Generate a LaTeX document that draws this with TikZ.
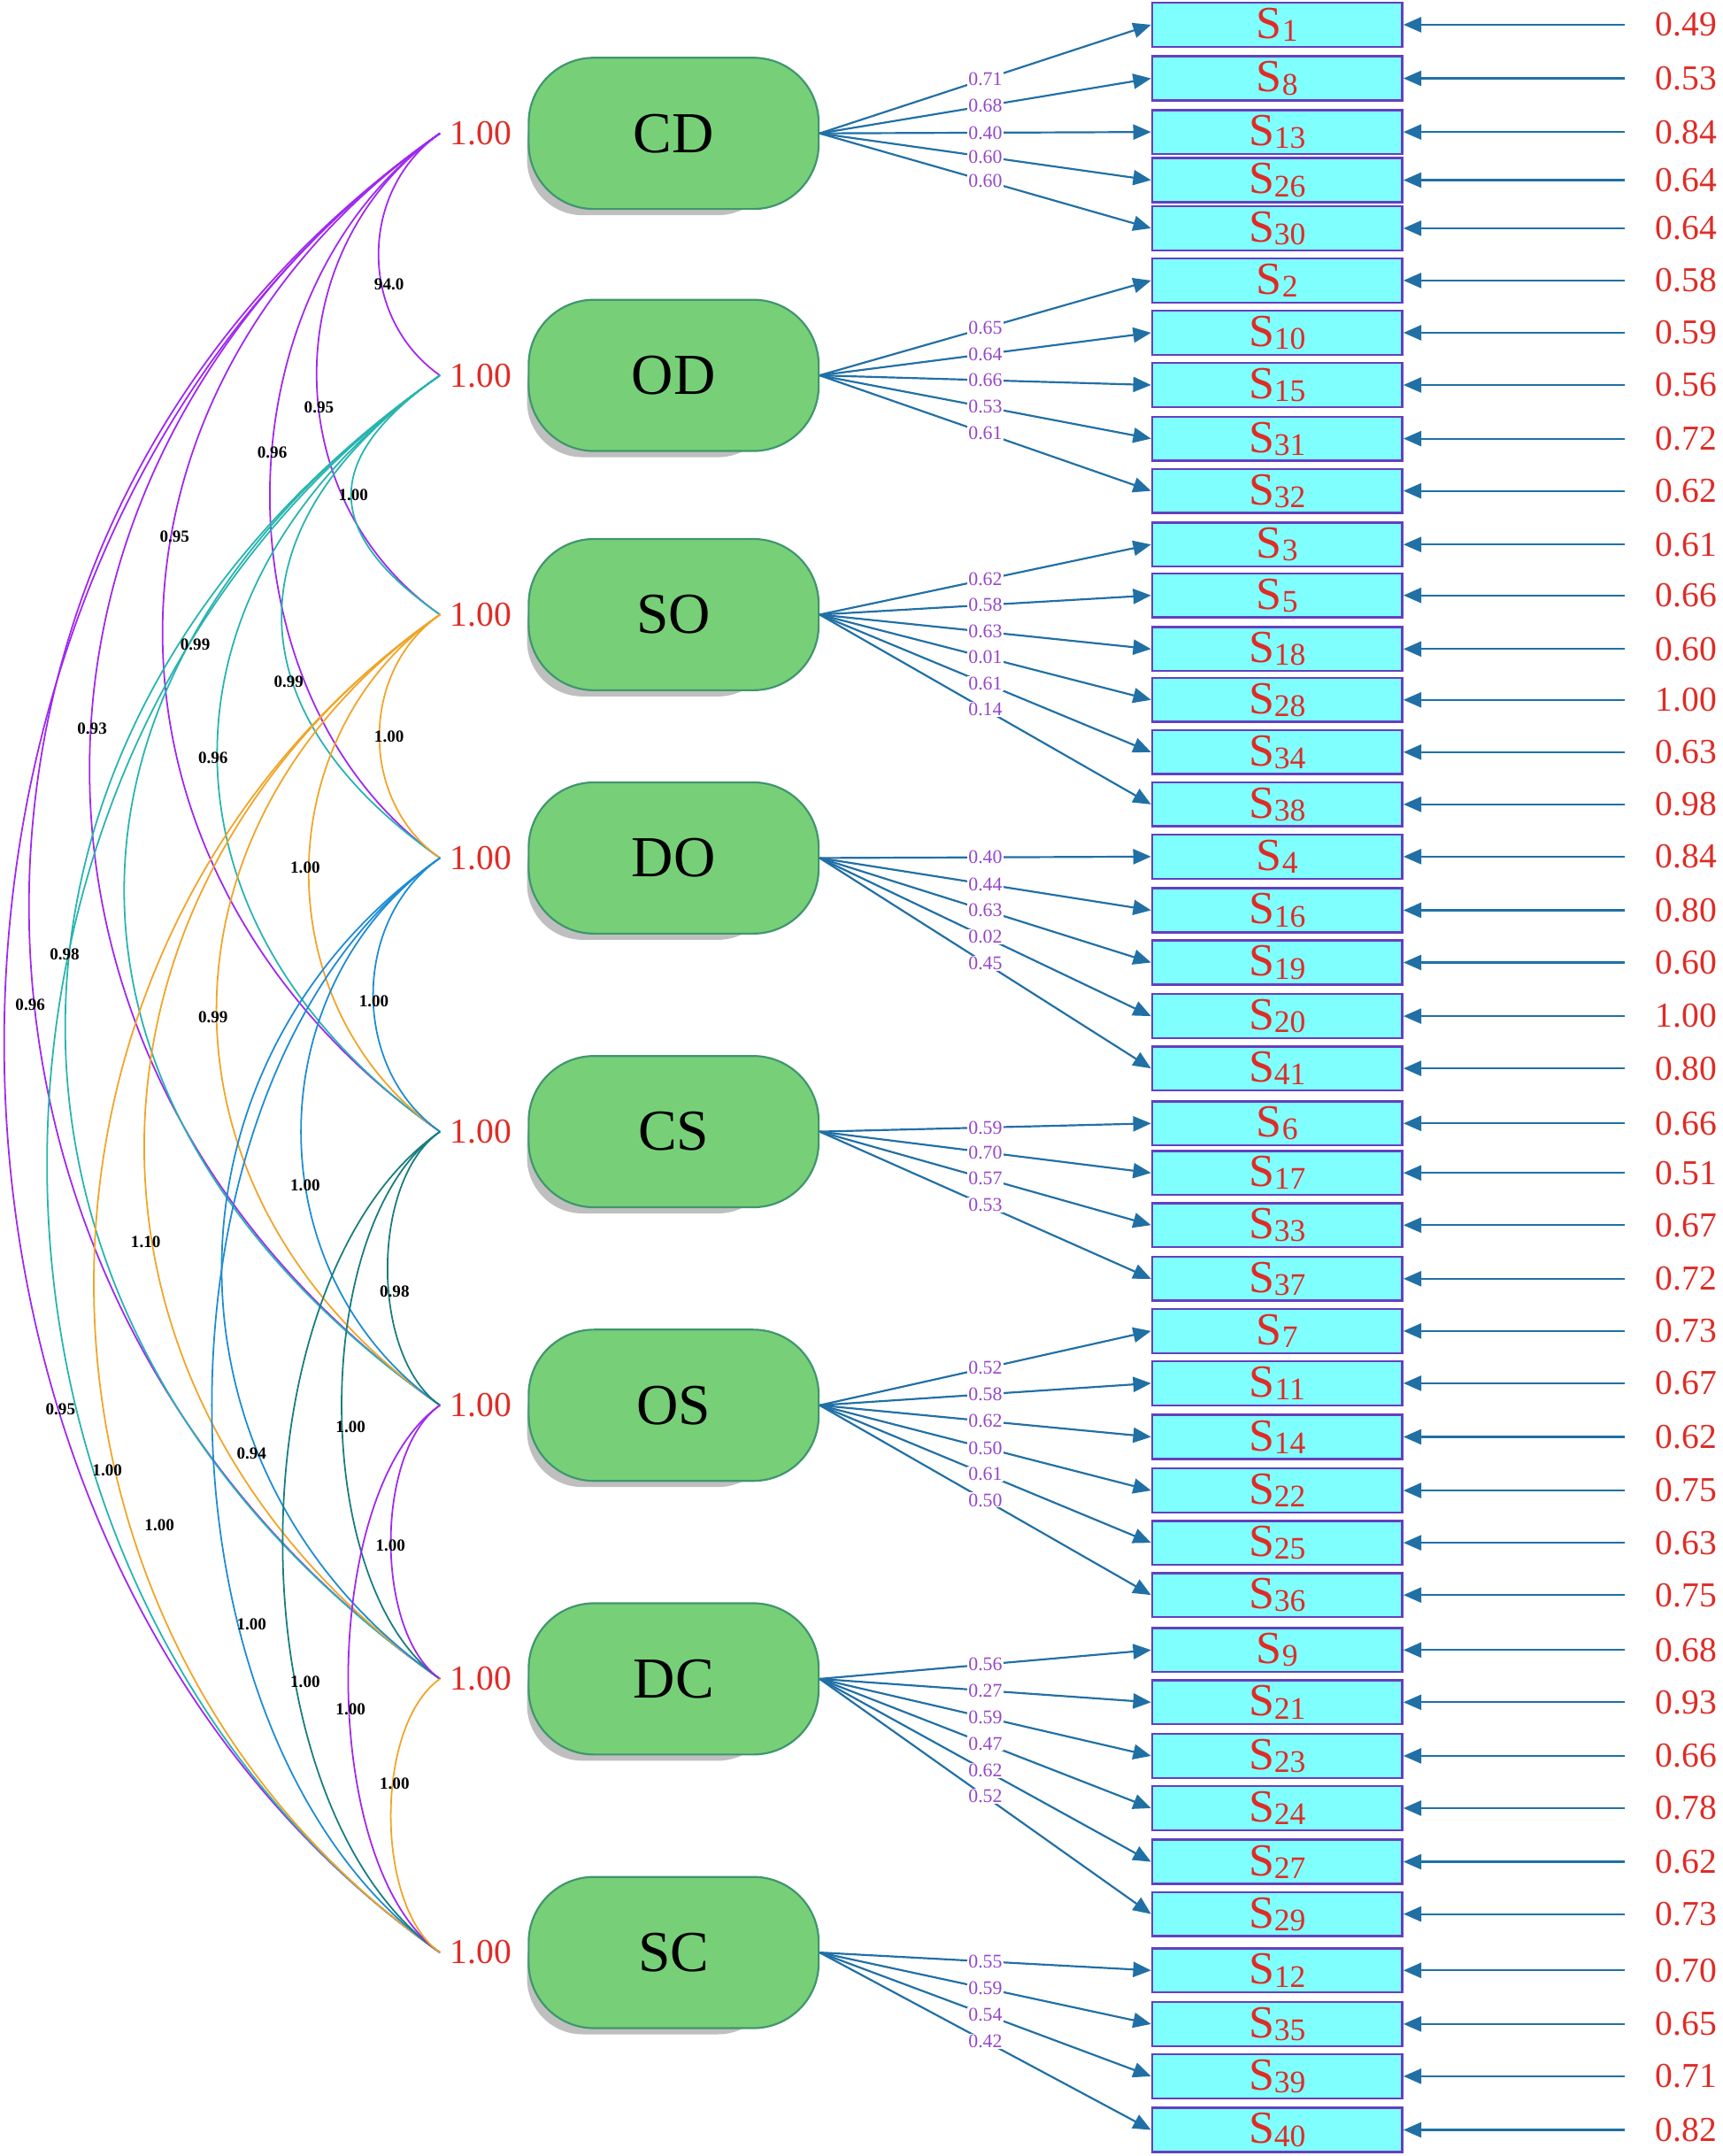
\documentclass[tikz,border=0pt]{standalone}
\usepackage{fontspec}
\setmainfont{Liberation Serif}
\usetikzlibrary{arrows.meta,shadows}

\definecolor{latgreen}{RGB}{119,208,120}
\definecolor{latedge}{RGB}{64,150,110}
\definecolor{obscyan}{RGB}{128,255,255}
\definecolor{obsedge}{RGB}{100,64,190}
\definecolor{numred}{RGB}{222,44,38}
\definecolor{pathblue}{RGB}{33,112,165}
\definecolor{ldpurple}{RGB}{150,70,200}
\definecolor{cvpurple}{RGB}{160,40,240}
\definecolor{cvteal}{RGB}{40,180,175}
\definecolor{cvorange}{RGB}{240,165,40}
\definecolor{cvblue}{RGB}{30,140,210}
\definecolor{cvdteal}{RGB}{25,125,125}

\newcommand{\snum}[1]{{\fontsize{13}{13}\selectfont\raisebox{-0.04cm}{#1}}}

\begin{document}
\begin{tikzpicture}[x=0.02cm,y=0.02cm,
  >={Triangle[length=0.26cm,width=0.22cm]},
  latent/.style={draw=latedge,thick,fill=latgreen,rounded corners=0.95cm,
    minimum width=4.22cm,minimum height=2.2cm,font=\fontsize{24}{24}\selectfont,
    drop shadow={shadow scale=0.85,shadow xshift=-0.4cm,shadow yshift=-0.3cm,
      opacity=0.25,fill=black}},
  obs/.style={draw=obsedge,line width=0.9pt,fill=obscyan,minimum width=3.64cm,
    minimum height=0.64cm,inner sep=0pt,text=numred,font=\fontsize{19}{19}\selectfont},
  var/.style={text=numred,font=\fontsize{14.5}{14.5}\selectfont,inner sep=0pt},
  load/.style={->,pathblue,line width=0.8pt},
  ld/.style={text=ldpurple,font=\fontsize{8}{8}\selectfont,fill=white,inner sep=0.4pt},
  cov/.style={line width=0.65pt},
  cl/.style={font=\fontsize{7}{7}\selectfont\bfseries,inner sep=0pt},
]
\useasboundingbox (0,0) rectangle (1253,-1568);

% --- latent factors with variances ---
\foreach \f/\y in {CD/97,OD/273,SO/447,DO/624,CS/823,OS/1022,DC/1221,SC/1420} {
  \node[latent] (\f) at (490,-\y) {\f};
  \coordinate (a\f) at (320,-\y);
  \node[var,anchor=west] (v\f) at (327,-\y) {1.00};
}

% --- observed items and error terms ---
\foreach \s/\y/\e in {1/18/0.49,8/57/0.53,13/96/0.84,26/131/0.64,30/166/0.64,
    2/204/0.58,10/242/0.59,15/280/0.56,31/319/0.72,32/357/0.62,
    3/396/0.61,5/433/0.66,18/472/0.60,28/509/1.00,34/547/0.63,38/585/0.98,
    4/623/0.84,16/662/0.80,19/700/0.60,20/739/1.00,41/777/0.80,
    6/817/0.66,17/853/0.51,33/891/0.67,37/930/0.72,
    7/968/0.73,11/1006/0.67,14/1045/0.62,22/1084/0.75,25/1122/0.63,36/1160/0.75,
    9/1200/0.68,21/1238/0.93,23/1277/0.66,24/1315/0.78,27/1354/0.62,29/1392/0.73,
    12/1433/0.70,35/1472/0.65,39/1510/0.71,40/1549/0.82} {
  \node[obs] (s\s) at (929,-\y) {S\snum{\s}};
  \node[var,anchor=east] (e\s) at (1249,-\y) {\e};
  \draw[load,shorten <=0.44cm] (e\s.west) -- (s\s.east);
}

% --- factor loadings ---
\foreach \f/\s/\l in {CD/1/0.71,CD/8/0.68,CD/13/0.40,CD/26/0.60,CD/30/0.60,
    OD/2/0.65,OD/10/0.64,OD/15/0.66,OD/31/0.53,OD/32/0.61,
    SO/3/0.62,SO/5/0.58,SO/18/0.63,SO/28/0.01,SO/34/0.61,SO/38/0.14,
    DO/4/0.40,DO/16/0.44,DO/19/0.63,DO/20/0.02,DO/41/0.45,
    CS/6/0.59,CS/17/0.70,CS/33/0.57,CS/37/0.53,
    OS/7/0.52,OS/11/0.58,OS/14/0.62,OS/22/0.50,OS/25/0.61,OS/36/0.50,
    DC/9/0.56,DC/21/0.27,DC/23/0.59,DC/24/0.47,DC/27/0.62,DC/29/0.52,
    SC/12/0.55,SC/35/0.59,SC/39/0.54,SC/40/0.42}
  \draw[load] (\f.east) -- node[ld] (l\s) {\l} (s\s.west);

% --- factor covariances ---
\foreach \a/\b/\c/\k in {CD/OD/cvpurple/1.06,CD/SO/cvpurple/1.07,CD/DO/cvpurple/0.98,
    CD/CS/cvpurple/1.16,CD/OS/cvpurple/1.15,CD/DC/cvpurple/1.11,CD/SC/cvpurple/1.0,
    OD/SO/cvteal/1.55,OD/DO/cvteal/1.37,OD/CS/cvteal/1.23,OD/OS/cvteal/1.28,
    OD/DC/cvteal/1.2,OD/SC/cvteal/1.04,
    SO/DO/cvorange/1.04,SO/CS/cvorange/1.06,SO/OS/cvorange/1.18,SO/DC/cvorange/1.16,
    SO/SC/cvorange/1.08,
    DO/CS/cvblue/1.02,DO/OS/cvblue/1.06,DO/DC/cvblue/1.11,DO/SC/cvblue/0.87,
    CS/OS/cvdteal/0.8,CS/DC/cvdteal/0.75,CS/SC/cvdteal/0.8,
    OS/DC/cvpurple/0.75,OS/SC/cvpurple/0.7,
    DC/SC/cvorange/0.75}
  \draw[cov,\c] (a\a) to[out=215,in=145,looseness=\k] (a\b);

% --- covariance values ---
\foreach \n/\x/\y/\t in {1/283/207/94.0,2/232/296/0.95,3/198/329/0.96,4/257/360/1.00,
    5/127/390/0.95,6/142/469/0.99,7/210/496/0.99,8/67/530/0.93,9/283/536/1.00,
    10/155/551/0.96,11/222/631/1.00,12/47/694/0.98,13/272/728/1.00,14/22/731/0.96,
    15/155/740/0.99,16/222/862/1.00,17/106/903/1.10,18/287/939/0.98,19/44/1025/0.95,
    20/255/1038/1.00,21/183/1057/0.94,22/78/1069/1.00,23/116/1109/1.00,
    24/284/1124/1.00,25/183/1181/1.00,26/222/1223/1.00,27/255/1243/1.00,
    28/287/1297/1.00}
  \node[cl] (c\n) at (\x,-\y) {\t};

\end{tikzpicture}
\end{document}
